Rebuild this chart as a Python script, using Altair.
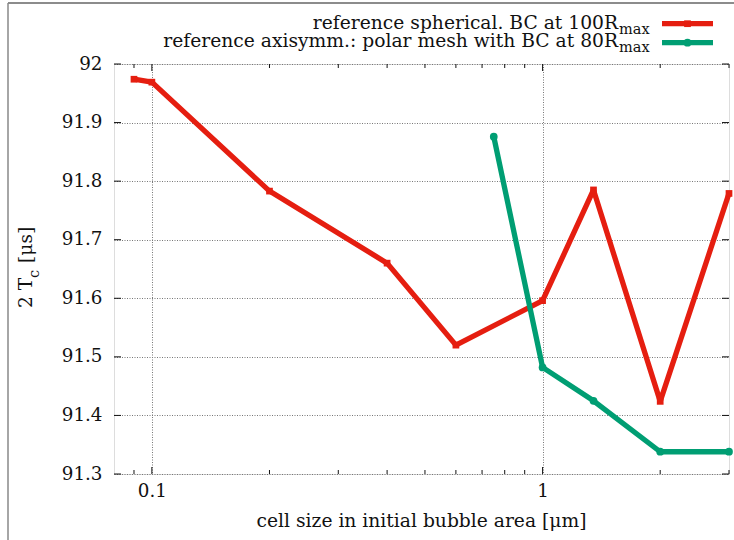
import altair as alt
import pandas as pd

# ---- data ----
red_x = [0.09, 0.1, 0.2, 0.4, 0.6, 1.0, 1.35, 2.0, 3.0]
red_y = [91.974, 91.969, 91.783, 91.660, 91.520, 91.596, 91.785, 91.424, 91.779]
green_x = [0.75, 1.0, 1.35, 2.0, 3.0]
green_y = [91.876, 91.482, 91.425, 91.338, 91.338]

x_major = [0.1, 1.0]
x_minor = [0.09, 0.2, 0.3, 0.4, 0.5, 0.6, 0.7, 0.8, 0.9, 2.0, 3.0]
y_ticks = [91.3, 91.4, 91.5, 91.6, 91.7, 91.8, 91.9, 92.0]

legend_main = ["reference spherical. BC at 100R", "reference axisymm.: polar mesh with BC at 80R"]
legend_sub = "max"
x_title = "cell size in initial bubble area [\u03bcm]"
y_title_a = "2 T"
y_title_sub = "c"
y_title_b = "[\u03bcs]"

RED = "#e51e10"
GREEN = "#009e73"
FONT = "DejaVu Serif"
W, H = 615, 410
FS = 18.7

red_df = pd.DataFrame({"x": red_x, "y": red_y})
green_df = pd.DataFrame({"x": green_x, "y": green_y})

xs = alt.Scale(type="log", domain=[0.08, 3], nice=False)
ys = alt.Scale(domain=[91.3, 92.0], nice=False, zero=False)

base_axis = dict(grid=True, gridDash=[1, 1.5], gridColor="#777", gridWidth=1,
                 domain=False, ticks=False, tickSize=0, labelFont=FONT,
                 labelFontSize=18.3, labelColor="#111", title=None)

x_enc = alt.X("x:Q", scale=xs,
              axis=alt.Axis(values=x_major, format="~g", labelPadding=8,
                            **base_axis))
y_enc = alt.Y("y:Q", scale=ys,
              axis=alt.Axis(values=y_ticks, format="~f", labelPadding=12,
                            **base_axis))

red_line = alt.Chart(red_df).mark_line(color=RED, strokeWidth=5.3, strokeJoin="round").encode(x=x_enc, y=y_enc)
red_pts = alt.Chart(red_df).mark_point(shape="square", filled=True, color=RED, size=45, opacity=1).encode(x="x:Q", y="y:Q")
green_line = alt.Chart(green_df).mark_line(color=GREEN, strokeWidth=5.3, strokeJoin="round").encode(x="x:Q", y="y:Q")
green_pts = alt.Chart(green_df).mark_point(shape="circle", filled=True, color=GREEN, size=60, opacity=1).encode(x="x:Q", y="y:Q")

# inward ticks (gnuplot style)
xmaj_df = pd.DataFrame({"x": x_major})
xmin_df = pd.DataFrame({"x": x_minor})
yt_df = pd.DataFrame({"y": y_ticks})
tick_col = "#111"
ticks = [
    alt.Chart(xmaj_df).mark_rule(color=tick_col, strokeWidth=1).encode(x="x:Q", y=alt.value(H), y2=alt.value(H - 7)),
    alt.Chart(xmaj_df).mark_rule(color=tick_col, strokeWidth=1).encode(x="x:Q", y=alt.value(0), y2=alt.value(7)),
    alt.Chart(xmin_df).mark_rule(color=tick_col, strokeWidth=1).encode(x="x:Q", y=alt.value(H), y2=alt.value(H - 4)),
    alt.Chart(xmin_df).mark_rule(color=tick_col, strokeWidth=1).encode(x="x:Q", y=alt.value(0), y2=alt.value(4)),
    alt.Chart(yt_df).mark_rule(color=tick_col, strokeWidth=1).encode(y="y:Q", x=alt.value(0), x2=alt.value(7)),
    alt.Chart(yt_df).mark_rule(color=tick_col, strokeWidth=1).encode(y="y:Q", x=alt.value(W), x2=alt.value(W - 7)),
]

one = pd.DataFrame({"a": [0]})

def txt(text, x, y, size=FS, align="left", baseline="alphabetic", angle=0):
    kw = dict(text=text, font=FONT, fontSize=size, align=align, baseline=baseline, color="#111")
    if angle:
        kw["angle"] = angle
    return alt.Chart(one).mark_text(**kw).encode(x=alt.value(x), y=alt.value(y))

# legend (custom, with subscripts)
leg = []
rows = [(-40.3, -35, RED, "square", 45), (-21.3, -17, GREEN, "circle", 60)]
for (ly, by, col, shp, sz), main in zip(rows, legend_main):
    leg.append(txt(main, 504, by, align="right"))
    leg.append(txt(legend_sub, 505, by + 5, size=14.5))
    leg.append(alt.Chart(one).mark_rule(color=col, strokeWidth=5.3).encode(
        x=alt.value(548), x2=alt.value(599), y=alt.value(ly)))
    leg.append(alt.Chart(one).mark_point(shape=shp, filled=True, color=col, size=sz, opacity=1).encode(
        x=alt.value(573.5), y=alt.value(ly)))

# axis titles
titles = [
    txt(x_title, W / 2, 463, align="center"),
    txt(y_title_a, -82, 244, angle=270),
    txt(y_title_sub, -75, 214, size=14.5, angle=270),
    txt(y_title_b, -82, 199, angle=270),
]

# outer frame fragments
frame = [
    alt.Chart(one).mark_rule(color="#666", strokeWidth=1.5).encode(
        x=alt.value(-106), x2=alt.value(625), y=alt.value(-61)),
    alt.Chart(one).mark_rule(color="#888", strokeWidth=1.5).encode(
        x=alt.value(-106), y=alt.value(-61), y2=alt.value(480)),
]

chart = alt.layer(red_line, red_pts, green_line, green_pts, *ticks, *leg, *titles, *frame).properties(
    width=W, height=H,
    autosize=alt.AutoSizeParams(type="none"),
    padding={"left": 114, "top": 64, "right": 5, "bottom": 66},
).configure_view(stroke="#111", strokeWidth=1.5).configure(background="white")

chart.save("out.html", embed_options={"renderer": "svg", "actions": False})
